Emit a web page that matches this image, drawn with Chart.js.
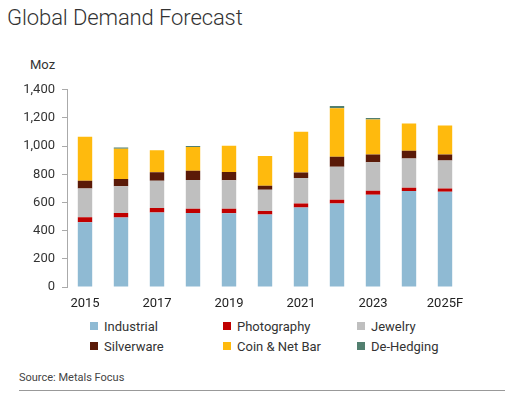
<!DOCTYPE html>
<html>
<head>
<meta charset="utf-8">
<script src="https://cdn.jsdelivr.net/npm/chart.js@4.4.0/dist/chart.umd.min.js"></script>
<style>
  body { margin: 0; background: #fff; font-family: Roboto, "Liberation Sans", sans-serif; color: #333; }
  #wrap { position: relative; width: 512px; height: 403px; overflow: hidden; }
  #title { position: absolute; left: 7px; top: 5px; font-size: 22px; font-weight: 300; color: #333; letter-spacing: -0.1px; }
  #unit { position: absolute; left: 30px; top: 57px; font-size: 13px; color: #333; }
  #chartBox { position: absolute; left: 0; top: 75px; width: 512px; height: 240px; }
  #legend { position: absolute; left: 90px; top: 318px; display: grid; grid-template-columns: 133px 134px 140px; row-gap: 4px; font-size: 13px; color: #333; }
  .item { display: flex; align-items: center; height: 16px; }
  .sw { width: 8px; height: 8px; margin-right: 6px; }
  #source { position: absolute; left: 19px; top: 371px; font-size: 11px; color: #444; }
  #rule { position: absolute; left: 19px; top: 390px; width: 486px; height: 1px; background: #999; }
</style>
</head>
<body>
<div id="wrap">
  <div id="title">Global Demand Forecast</div>
  <div id="unit">Moz</div>
  <div id="chartBox"><canvas id="demandChart"></canvas></div>
  <div id="legend"></div>
  <div id="source">Source: Metals Focus</div>
  <div id="rule"></div>
</div>
<script>
// Data (Moz)
const years = ['2015', '2016', '2017', '2018', '2019', '2020', '2021', '2022', '2023', '2024', '2025F'];
const industrial  = [459, 494, 529, 526, 524, 515, 565, 593, 655, 681, 676];
const photography = [37, 32, 31, 30, 32, 25, 28, 26, 28, 23, 23];
const jewelry     = [203, 189, 194, 203, 201, 150, 180, 235, 203, 209, 199];
const silverware  = [55, 51, 60, 67, 60, 28, 39, 71, 55, 54, 43];
const coinBar     = [312, 215, 157, 168, 186, 212, 291, 344, 249, 193, 206];
const deHedging   = [0, 9, 0, 7, 0, 0, 0, 16, 10, 0, 0];
const yTicks = [0, 200, 400, 600, 800, 1000, 1200, 1400];

const series = [
    { label: 'Industrial', data: industrial, color: '#8fbad3' },
    { label: 'Photography', data: photography, color: '#c00000' },
    { label: 'Jewelry', data: jewelry, color: '#bfbfbf' },
    { label: 'Silverware', data: silverware, color: '#5a1a08' },
    { label: 'Coin & Net Bar', data: coinBar, color: '#ffba0d' },
    { label: 'De-Hedging', data: deHedging, color: '#527f6f' }
];

const ctx = document.getElementById('demandChart').getContext('2d');
const demandChart = new Chart(ctx, {
    type: 'bar',
    data: {
        labels: years,
        datasets: series.map(s => ({
            label: s.label,
            data: s.data,
            backgroundColor: s.color,
            borderWidth: 0,
            categoryPercentage: 1,
            barPercentage: 0.4
        }))
    },
    options: {
        responsive: true,
        maintainAspectRatio: false,
        animation: false,
        layout: { padding: { top: 9, right: 49, left: 0, bottom: 0 } },
        scales: {
            x: {
                stacked: true,
                grid: { display: false, drawTicks: false },
                border: { display: false },
                ticks: {
                    autoSkip: false,
                    maxRotation: 0,
                    padding: 9,
                    color: '#222',
                    font: { family: 'Roboto', size: 13 },
                    callback: function(value, index) {
                        return index % 2 === 0 ? this.getLabelForValue(value) : '';
                    }
                },
                afterFit: function(scale) { scale.height = 28; }
            },
            y: {
                stacked: true,
                min: 0,
                max: 1400,
                afterBuildTicks: function(scale) {
                    scale.ticks = yTicks.map(v => ({ value: v }));
                },
                grid: { drawOnChartArea: false, drawTicks: true, tickLength: 5, color: '#aaa' },
                border: { display: true, color: '#aaa' },
                ticks: {
                    padding: 7,
                    color: '#333',
                    font: { family: 'Roboto', size: 13 },
                    callback: function(value) {
                        return value.toLocaleString('en-US');
                    }
                },
                afterFit: function(scale) { scale.width = 67; }
            }
        },
        plugins: {
            legend: { display: false },
            tooltip: { enabled: false }
        }
    }
});

// HTML legend, 3 columns like the original
const legend = document.getElementById('legend');
series.forEach(s => {
    const item = document.createElement('div');
    item.className = 'item';
    item.innerHTML = '<span class="sw" style="background:' + s.color + '"></span>' + s.label;
    legend.appendChild(item);
});
</script>
</body>
</html>
